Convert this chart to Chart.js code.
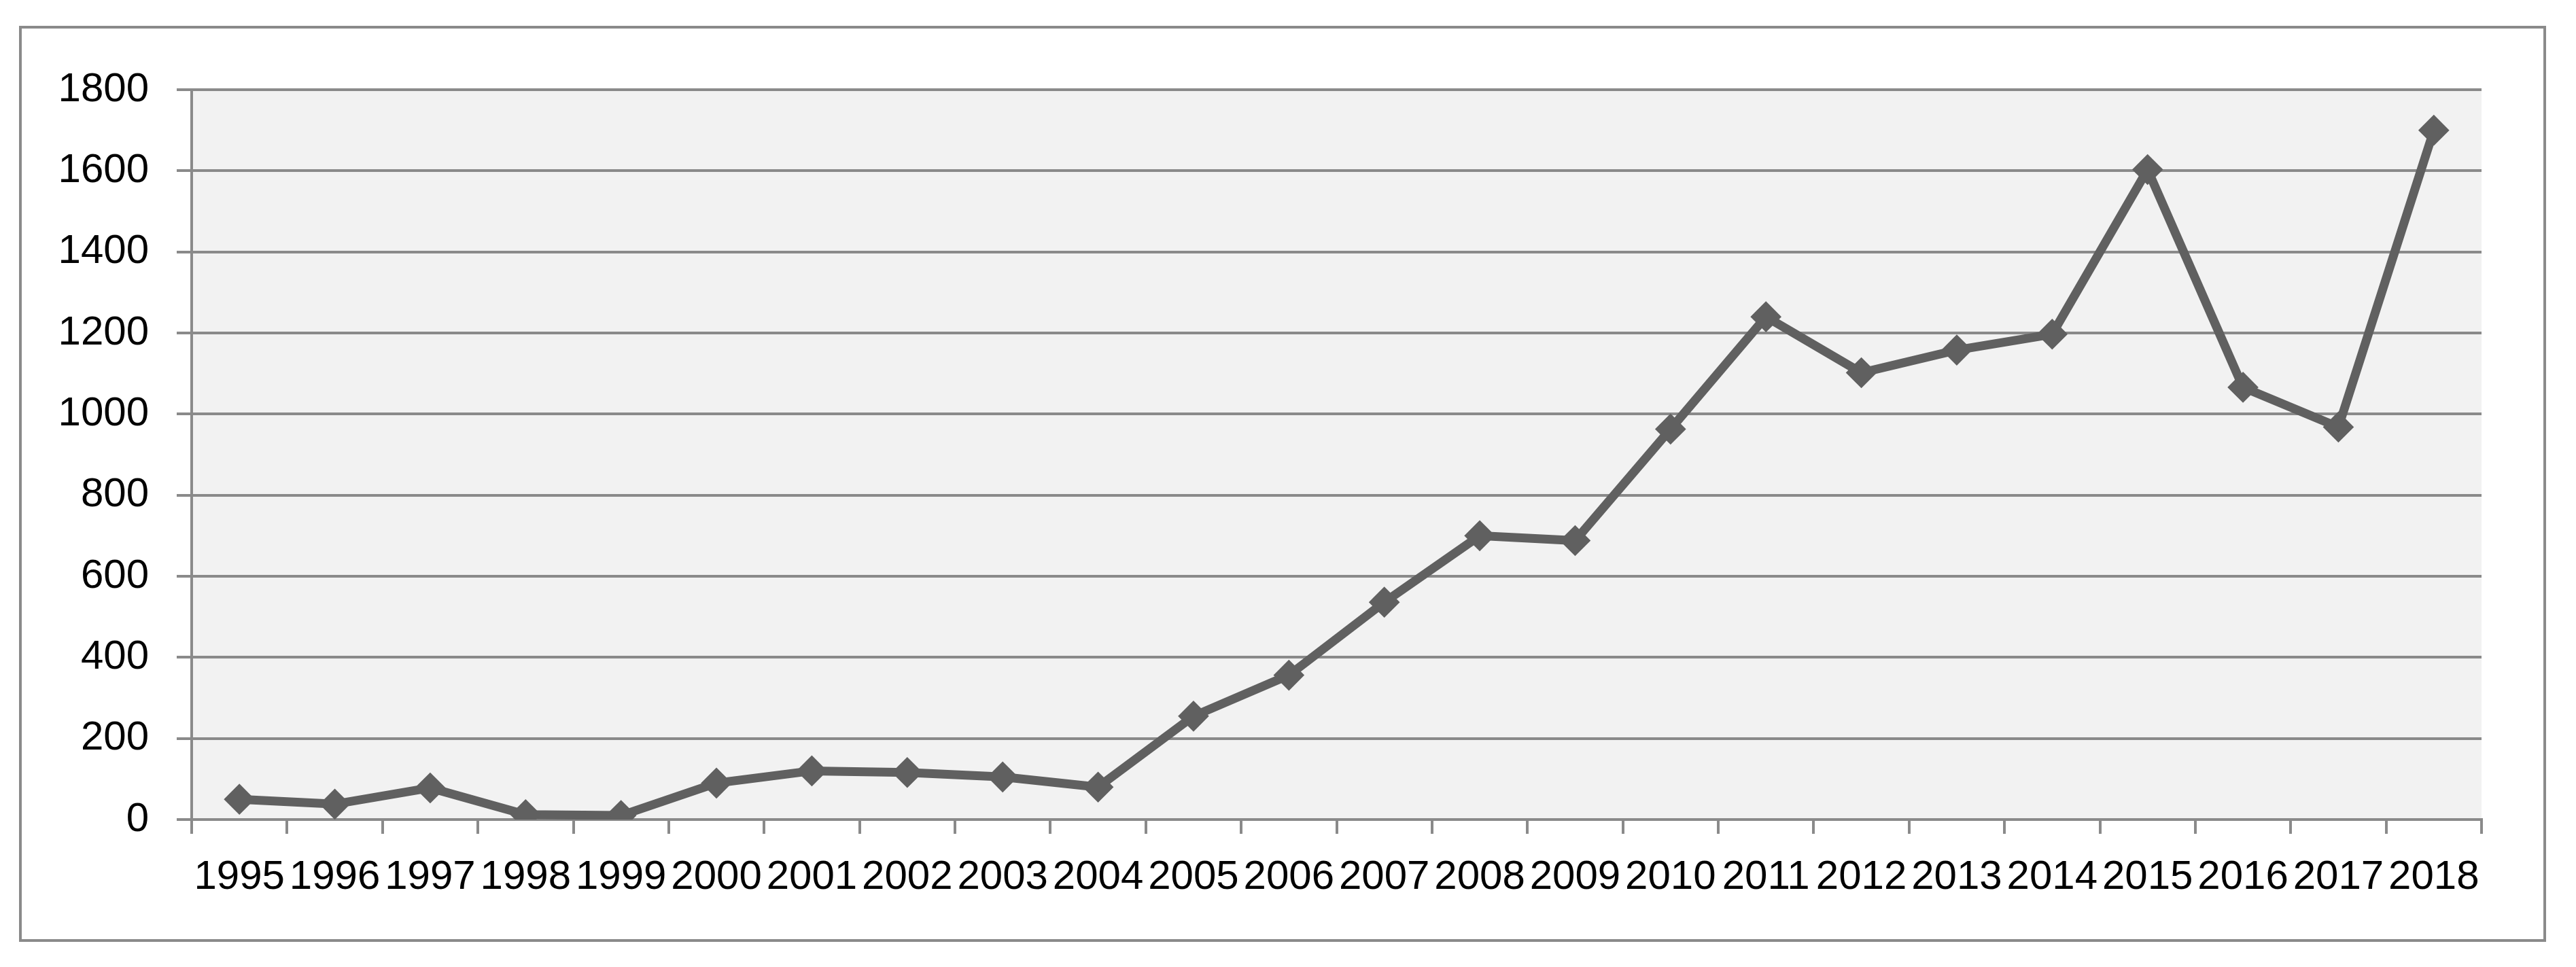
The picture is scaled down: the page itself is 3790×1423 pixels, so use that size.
<!DOCTYPE html>
<html>
<head>
<meta charset="utf-8">
<script src="https://cdn.jsdelivr.net/npm/chart.js@4/dist/chart.umd.min.js"></script>
<style>
  html, body { margin: 0; padding: 0; background: #fff; }
  #frame {
    position: absolute;
    left: 28px; top: 38px;
    width: 3718px; height: 1348px;
    border: 4px solid #8a8a8a;
    box-sizing: border-box;
  }
  #chart { display: block; }
</style>
</head>
<body>
<div id="frame"><canvas id="chart" width="3710" height="1340"></canvas></div>
<script>
const years = ["1995", "1996", "1997", "1998", "1999", "2000", "2001", "2002",
  "2003", "2004", "2005", "2006", "2007", "2008", "2009", "2010", "2011",
  "2012", "2013", "2014", "2015", "2016", "2017", "2018"];
const counts = [50, 38, 78, 12, 10, 90, 120, 116, 105, 80, 255, 356, 536, 700,
  688, 963, 1240, 1102, 1158, 1197, 1603, 1066, 968, 1700];
const yTicks = [0, 200, 400, 600, 800, 1000, 1200, 1400, 1600, 1800];

const gridColor = "#8a8a8a";
const lineColor = "#606060";
const font = { family: "'Liberation Sans', Arial, sans-serif", size: 60 };

// grey plot background
const plotBg = {
  id: "plotBg",
  beforeDraw(chart) {
    const { ctx, chartArea: a } = chart;
    ctx.save();
    ctx.fillStyle = "#f2f2f2";
    ctx.fillRect(a.left, a.top, a.right - a.left, a.bottom - a.top);
    ctx.restore();
  },
};

new Chart(document.getElementById("chart").getContext("2d"), {
  type: "line",
  data: {
    labels: years,
    datasets: [
      {
        data: counts,
        borderColor: lineColor,
        borderWidth: 13,
        backgroundColor: lineColor,
        pointStyle: "rectRot",
        pointRadius: 20,
        pointBorderWidth: 4,
        pointBorderColor: lineColor,
        pointBackgroundColor: lineColor,
        tension: 0,
        fill: false,
      },
    ],
  },
  options: {
    responsive: false,
    animation: false,
    layout: { padding: { top: 90, right: 91, left: 0, bottom: 0 } },
    plugins: {
      legend: { display: false },
      tooltip: { enabled: false },
    },
    scales: {
      x: {
        offset: true,
        grid: {
          offset: true,
          drawOnChartArea: false,
          drawTicks: true,
          tickLength: 21,
          color: gridColor,
          lineWidth: 4,
        },
        border: { display: true, color: gridColor, width: 4 },
        ticks: {
          color: "#000",
          font: font,
          padding: 28,
          maxRotation: 0,
          minRotation: 0,
          autoSkip: false,
        },
        afterFit(scale) { scale.height = 176; },
      },
      y: {
        min: 0,
        max: 1800,
        afterBuildTicks(scale) { scale.ticks = yTicks.map(v => ({ value: v })); },
        grid: {
          color: gridColor,
          lineWidth: 4,
          drawTicks: true,
          tickLength: 22,
        },
        border: { display: true, color: gridColor, width: 4 },
        ticks: {
          color: "#000",
          font: font,
          padding: 41,
          callback: (v) => String(v),
        },
        afterFit(scale) { scale.width = 250; },
      },
    },
  },
  plugins: [plotBg],
});
</script>
</body>
</html>
